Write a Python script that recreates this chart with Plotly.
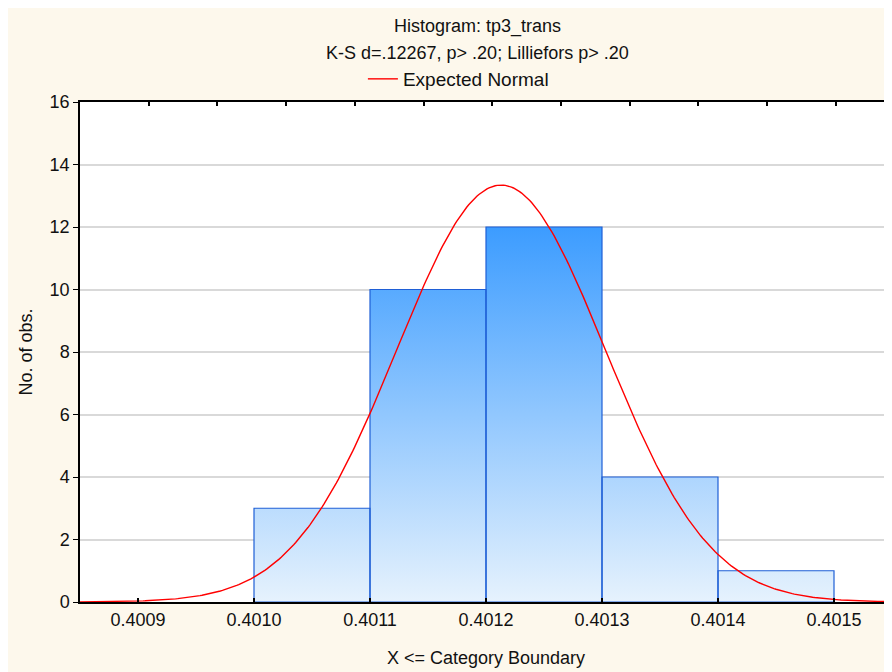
import numpy as np
import plotly.graph_objects as go

# ---- data ----
bin_edges = [0.4010, 0.4011, 0.4012, 0.4013, 0.4014, 0.4015]
counts = [3, 10, 12, 4, 1]
tick_vals = [0.4009, 0.4010, 0.4011, 0.4012, 0.4013, 0.4014, 0.4015]
tick_text = ["0.4009", "0.4010", "0.4011", "0.4012", "0.4013", "0.4014", "0.4015"]
y_ticks = [0, 2, 4, 6, 8, 10, 12, 14, 16]
normal_mean = 0.401213
normal_sd = 0.0000897
n_obs = sum(counts)
bin_width = 0.0001

title_line1 = "Histogram: tp3_trans"
title_line2 = "K-S d=.12267, p> .20; Lilliefors p> .20"

FONT = "Liberation Sans, Arial, sans-serif"
FS = 18

# bar outlines built from bins
bx, by = [], []
for i, c in enumerate(counts):
    l, r = bin_edges[i], bin_edges[i + 1]
    bx += [l, l, r, r, l, None]
    by += [0, c, c, 0, 0, None]

fig = go.Figure()
fig.add_trace(go.Scatter(
    x=bx, y=by, mode="lines", fill="toself",
    fillgradient=dict(type="vertical",
                      colorscale=[[0, "#E6F2FD"], [1, "#3C9CFF"]],
                      start=0, stop=max(counts)),
    line=dict(color="#1F5FD6", width=1.2),
    showlegend=False, hoverinfo="skip"))

xs = np.linspace(0.40085, 0.40155, 400)
ys = n_obs * bin_width / (normal_sd * np.sqrt(2 * np.pi)) * np.exp(-0.5 * ((xs - normal_mean) / normal_sd) ** 2)
fig.add_trace(go.Scatter(x=xs, y=ys, mode="lines", name="Expected Normal",
                         line=dict(color="#FF0000", width=1.4)))

# invisible trace to create top axis ticks
fig.add_trace(go.Scatter(x=[0, 1], y=[0, 0], xaxis="x2", mode="lines",
                         line=dict(width=0), showlegend=False, hoverinfo="skip"))

fig.update_layout(
    width=884, height=664,
    margin=dict(l=72, r=0, t=94, b=70, autoexpand=False),
    paper_bgcolor="#FDF8EC", plot_bgcolor="#FFFFFF",
    font=dict(family=FONT, size=FS, color="#111111"),
    legend=dict(orientation="h", x=0.466, xanchor="center", itemwidth=30,
                y=1.046, yanchor="middle", bgcolor="rgba(0,0,0,0)", font=dict(size=19)),
    xaxis=dict(range=[0.40085, 0.40155], tickvals=tick_vals, ticktext=tick_text, tickangle=0,
               ticks="inside", ticklen=4, tickwidth=1.5, tickcolor="black", automargin=False,
               tickfont=dict(size=FS),
               showline=True, linecolor="black", linewidth=2, showgrid=False, zeroline=False,
               title=dict(text="X <= Category Boundary", standoff=23, font=dict(size=FS))),
    xaxis2=dict(overlaying="x", side="top", range=[0, 812 / 68.7], dtick=1, tick0=0, automargin=False,
                ticks="inside", ticklen=4, tickwidth=1.5, tickcolor="black", showticklabels=False,
                showline=True, linecolor="black", linewidth=2, showgrid=False, zeroline=False),
    yaxis=dict(range=[0, 16], tickvals=y_ticks, ticks="outside", ticklen=5, tickwidth=1.2,
               tickcolor="black", showline=True, linecolor="black", linewidth=1.5, automargin=False,
               tickfont=dict(size=FS),
               showgrid=True, gridcolor="#D9D9D9", gridwidth=1.5, zeroline=False,
               title=dict(text="No. of obs.", standoff=12, font=dict(size=FS))),
    annotations=[
        dict(text=title_line1, xref="paper", yref="paper", x=0.490, y=1.152,
             xanchor="center", yanchor="middle", showarrow=False, font=dict(size=FS)),
        dict(text=title_line2, xref="paper", yref="paper", x=0.490, y=1.098,
             xanchor="center", yanchor="middle", showarrow=False, font=dict(size=FS)),
    ],
)

fig.write_html("out.html")
